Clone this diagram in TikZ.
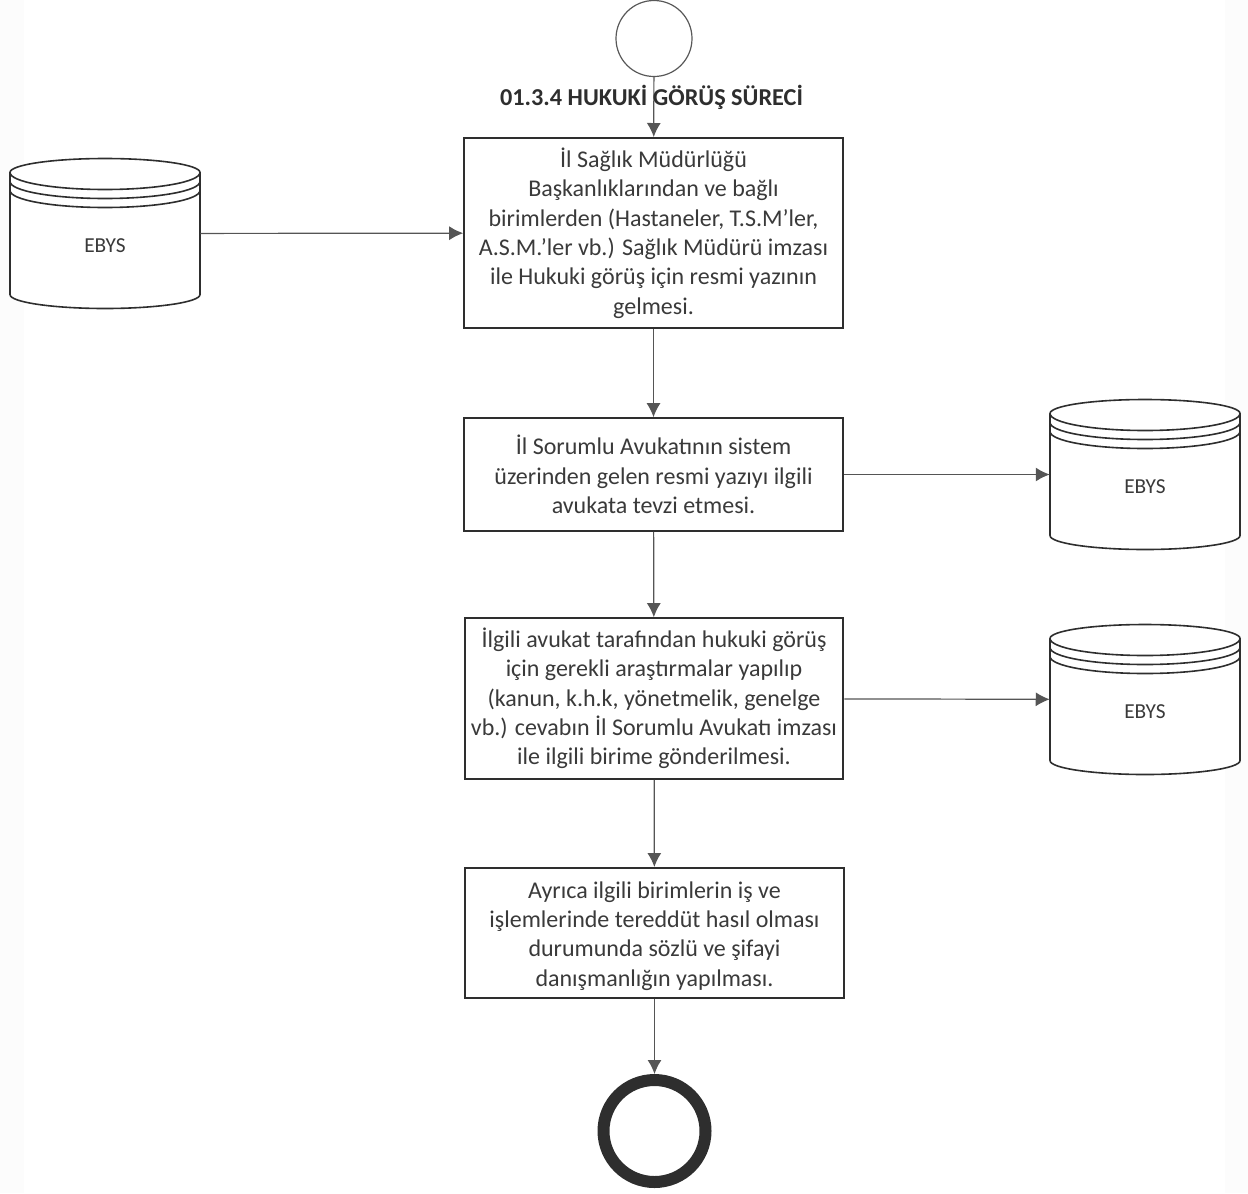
\documentclass[tikz,border=0pt]{standalone}
\usepackage{fontspec}
\setmainfont{Carlito}
\usetikzlibrary{arrows.meta}
\definecolor{ink}{HTML}{2E2E2E}
\definecolor{txt}{HTML}{3A3A3A}
\definecolor{conn}{HTML}{555555}
\tikzset{
  stepbox/.style={draw=ink,line width=1.5pt,fill=white,inner sep=0pt,align=center,
    font=\fontsize{18}{22}\selectfont,text=txt},
  cylbox/.style={inner sep=0pt,minimum width=142.5pt,minimum height=112pt},
  conn/.style={draw=conn,line width=0.9pt,-{Latex[length=10.5pt,width=10.5pt]}},
  cylline/.style={draw=ink,line width=1.2pt},
  cyltext/.style={font=\fontsize{16}{19}\selectfont,text=txt}
}
% #1 name, #2 x centre, #3 y centre (px)
\newcommand{\dbcyl}[3]{%
  \node[cylbox] (#1) at (#2,#3) {};
  \begin{scope}[shift={(#2,#3)}]
    \draw[cylline,fill=white] (-95,-61) arc[x radius=95,y radius=14,start angle=180,end angle=360]
      -- (95,61) .. controls (95,69) and (50,75) .. (0,75) .. controls (-50,75) and (-95,69) .. (-95,61) -- cycle;
    \draw[cylline] (-95,-61) arc[x radius=95,y radius=17,start angle=180,end angle=0];
    \draw[cylline] (-95,-52) arc[x radius=95,y radius=17,start angle=180,end angle=0];
    \draw[cylline] (-95,-43) arc[x radius=95,y radius=17,start angle=180,end angle=0];
    \node[cyltext] (#1t) at (0,12) {EBYS};
  \end{scope}}
\begin{document}
\begin{tikzpicture}[x=0.75pt,y=-0.75pt]
\useasboundingbox (0,0) rectangle (1248,1193);
\fill[black!1] (0,0) rectangle (24,1193);
\fill[black!1] (1225,0) rectangle (1248,1193);

\node[circle,draw=ink!80,line width=0.9pt,minimum size=57pt,inner sep=0pt] (start) at (654,38.5) {};
\node[stepbox,minimum width=284pt,minimum height=142.5pt] (b1) at (653.5,233)
  {\rule{0pt}{14.5pt}İl Sağlık Müdürlüğü\\Başkanlıklarından ve bağlı\\birimlerden (Hastaneler, T.S.M’ler,\\A.S.M.’ler vb.) Sağlık Müdürü imzası\\ile Hukuki görüş için resmi yazının\\gelmesi.};
\node[stepbox,minimum width=284pt,minimum height=84.5pt] (b2) at (653.5,474.5)
  {İl Sorumlu Avukatının sistem\\üzerinden gelen resmi yazıyı ilgili\\avukata tevzi etmesi.};
\node[stepbox,minimum width=284pt,minimum height=120.5pt] (b3) at (654,698.5)
  {İlgili avukat tarafından hukuki görüş\\için gerekli araştırmalar yapılıp\\(kanun, k.h.k, yönetmelik, genelge\\vb.) cevabın İl Sorumlu Avukatı imzası\\ile ilgili birime gönderilmesi.};
\node[stepbox,minimum width=284pt,minimum height=97.5pt] (b4) at (654.5,933)
  {\rule{0pt}{17pt}Ayrıca ilgili birimlerin iş ve\\işlemlerinde tereddüt hasıl olması\\durumunda sözlü ve şifayi\\danışmanlığın yapılması.};
\node[circle,draw=ink,line width=9pt,minimum size=76.5pt,inner sep=0pt,outer sep=4.5pt] (end) at (654.5,1131) {};

\dbcyl{c1}{105}{233.5}
\dbcyl{c2}{1145}{474.5}
\dbcyl{c3}{1145}{699.5}

\draw[conn] (start) -- (b1);
\draw[conn] (c1) -- (b1);
\draw[conn] (b1) -- (b2);
\draw[conn] (b2) -- (c2);
\draw[conn] (b2) -- (b3);
\draw[conn] (b3) -- (c3);
\draw[conn] (b3) -- (b4);
\draw[conn] (b4) -- (end);

\node[font=\fontsize{18.2}{20}\selectfont\bfseries,text=ink] (title) at (651.5,97) {01.3.4 HUKUKİ GÖRÜŞ SÜRECİ};
\end{tikzpicture}
\end{document}
